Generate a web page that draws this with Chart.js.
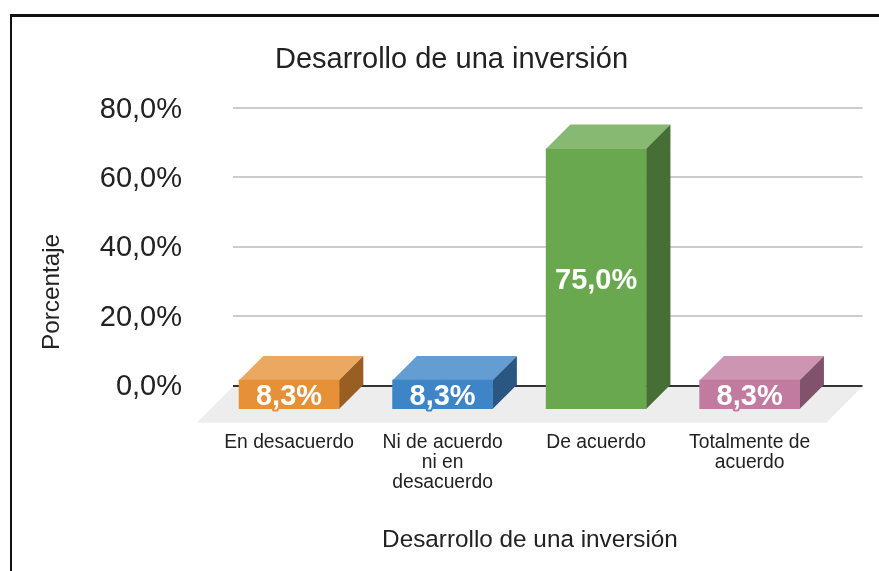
<!DOCTYPE html>
<html>
<head>
<meta charset="utf-8">
<script src="https://cdn.jsdelivr.net/npm/chart.js@4"></script>
<style>
html,body{margin:0;padding:0;background:#fff;width:879px;height:571px;overflow:hidden}
#frame{position:absolute;left:10px;top:14px;width:869px;height:557px;border-top:3px solid #111;border-left:2.5px solid #111;box-sizing:border-box}
#wrap{position:absolute;left:0;top:0;width:879px;height:571px}
</style>
</head>
<body>
<div id="frame"></div>
<div id="wrap"><canvas id="c" width="879" height="571"></canvas></div>
<script>
const chartTitle = "Desarrollo de una inversión";
const xAxisTitle = "Desarrollo de una inversión";
const yAxisTitle = "Porcentaje";
const categories = [["En desacuerdo"], ["Ni de acuerdo", "ni en", "desacuerdo"], ["De acuerdo"], ["Totalmente de", "acuerdo"]];
const percentages = [8.3, 8.3, 75.0, 8.3];
const yTicks = [0, 20, 40, 60, 80];
const frontColors = ["#E69138", "#3D85C6", "#6AA84F", "#C27BA0"];
const topColors = ["#EBA860", "#649DD1", "#88B972", "#CE95B3"];
const sideColors = ["#995F22", "#295781", "#476F35", "#80526B"];

const FONT = '"Liberation Sans", Arial, sans-serif';
const DEPTH = 24.3;
const fmt = v => v.toFixed(1).replace('.', ',') + '%';

function poly(ctx, pts, color) {
  ctx.fillStyle = color;
  ctx.beginPath();
  pts.forEach((p, i) => i ? ctx.lineTo(p[0], p[1]) : ctx.moveTo(p[0], p[1]));
  ctx.closePath();
  ctx.fill();
}

const floorPlugin = {
  id: 'floor',
  beforeDraw(chart) {
    const a = chart.chartArea, y = chart.scales.y, z = y.getPixelForValue(0) + 1;
    const bottom = a.bottom + 13.7, d = bottom - z;
    poly(chart.ctx, [[a.left, z], [a.right, z], [a.right - d, bottom], [a.left - d, bottom]], '#EDEDED');
    if (!chart.$labelsNudged) {
      y.getLabelItems(a).forEach(it => { it.textOffset += 1.5; });
      chart.$labelsNudged = true;
    }
  }
};
const facesPlugin = {
  id: 'faces',
  beforeDatasetsDraw(chart) {
    const ctx = chart.ctx;
    chart.getDatasetMeta(0).data.forEach((b, i) => {
      const l = b.x - b.width / 2, r = b.x + b.width / 2, t = b.y, bt = b.base;
      poly(ctx, [[l, t], [l + DEPTH, t - DEPTH], [r + DEPTH, t - DEPTH], [r, t]], topColors[i]);
      poly(ctx, [[r, t], [r + DEPTH, t - DEPTH], [r + DEPTH, bt - DEPTH], [r, bt]], sideColors[i]);
    });
  },
  afterDatasetsDraw(chart) {
    const ctx = chart.ctx;
    ctx.save();
    ctx.font = 'bold 29px ' + FONT;
    ctx.textAlign = 'center';
    ctx.textBaseline = 'middle';
    ctx.lineJoin = 'round';
    chart.getDatasetMeta(0).data.forEach((b, i) => {
      const cy = (b.y + b.base) / 2 + 2.5;
      const s = fmt(percentages[i]);
      ctx.strokeStyle = frontColors[i];
      ctx.lineWidth = 4;
      ctx.strokeText(s, b.x, cy);
      ctx.fillStyle = '#fff';
      ctx.fillText(s, b.x, cy);
    });
    ctx.restore();
  }
};
const axisTitles = {
  id: 'axisTitles',
  afterDraw(chart) {
    const ctx = chart.ctx;
    ctx.save();
    ctx.fillStyle = '#222';
    ctx.font = '24.3px ' + FONT;
    ctx.textAlign = 'center';
    ctx.textBaseline = 'middle';
    ctx.fillText(xAxisTitle, 530, 540);
    ctx.translate(52, 292);
    ctx.rotate(-Math.PI / 2);
    ctx.fillText(yAxisTitle, 0, 0);
    ctx.restore();
  }
};

new Chart(document.getElementById('c'), {
  type: 'bar',
  data: {
    datasets: [{
      data: percentages.map((v, i) => ({ x: i, y: v })),
      backgroundColor: frontColors,
      barThickness: 100,
      borderWidth: 0,
      yAxisID: 'yFront',
      xAxisID: 'x'
    }]
  },
  plugins: [floorPlugin, facesPlugin, axisTitles],
  options: {
    responsive: false,
    animation: false,
    layout: { padding: { left: 40.5, right: 16.5, top: 0, bottom: 0 } },
    plugins: {
      legend: { display: false },
      tooltip: { enabled: false },
      title: {
        display: true, text: chartTitle, color: '#222',
        font: { family: FONT, size: 29, weight: 'normal', lineHeight: 1.2 },
        padding: { top: 42.6, bottom: 30.6 }
      }
    },
    scales: {
      x: {
        type: 'linear', min: -0.365, max: 3.735, offset: false,
        afterBuildTicks: s => { s.ticks = categories.map((c, i) => ({ value: i })); },
        afterFit: s => { s.height = 162; },
        grid: { display: false, drawTicks: false, offset: false },
        border: { display: false },
        ticks: {
          autoSkip: false, maxRotation: 0, minRotation: 0, padding: 23, color: '#222',
          font: { family: FONT, size: 19.3, lineHeight: 1.06 },
          callback: v => categories[v]
        }
      },
      y: {
        position: 'left', min: -6.74, max: 80,
        afterBuildTicks: s => { s.ticks = yTicks.map(v => ({ value: v })); },
        afterFit: s => { s.width = 192.5; },
        grid: {
          drawTicks: false, lineWidth: 2,
          color: c => c.tick && c.tick.value === 0 ? '#333333' : '#CCCCCC'
        },
        border: { display: false },
        ticks: {
          padding: 51, color: '#222',
          font: { family: FONT, size: 29 },
          callback: v => fmt(v)
        }
      },
      yFront: { display: false, min: 0, max: 86.74 }
    }
  }
});
</script>
</body>
</html>
